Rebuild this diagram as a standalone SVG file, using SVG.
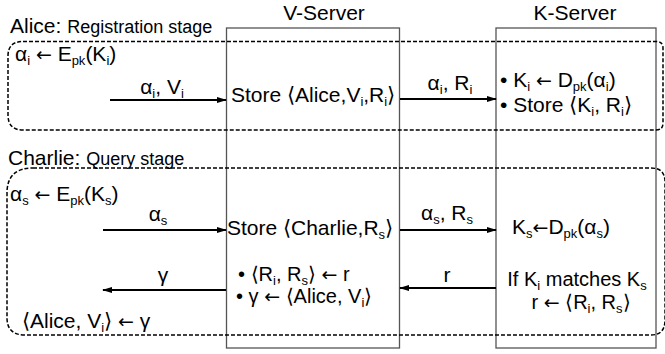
<svg xmlns="http://www.w3.org/2000/svg" width="665" height="354" viewBox="0 0 665 354">
<style>
text{font-family:"Liberation Sans",Arial,sans-serif;font-size:21px;fill:#000}
.sm{font-size:18px}
.s{font-size:13px}
.t{font-size:20px}
.ar{font-family:"DejaVu Sans",sans-serif;font-size:19px}
.box{fill:none;stroke:#555;stroke-width:1.3}
.dash{fill:none;stroke:#000;stroke-width:1.5;stroke-dasharray:4 2}
.arr{stroke:#000;stroke-width:2;fill:none;marker-end:url(#ah)}
</style>
<defs>
<marker id="ah" markerWidth="10" markerHeight="8" refX="9" refY="4" orient="auto" markerUnits="userSpaceOnUse">
<path d="M0,1 L10,4 L0,7 Z" fill="#000"/>
</marker>
</defs>
<rect width="665" height="354" fill="#fff"/>
<g id="vserver">
<rect class="box" x="226.5" y="28" width="173" height="320"/>
<text x="324" y="20" text-anchor="middle">V-Server</text>
</g>
<g id="kserver">
<rect class="box" x="496" y="28" width="160" height="320"/>
<text x="575" y="20" text-anchor="middle">K-Server</text>
</g>
<g id="registration">
<path class="dash" d="M23,41.5 H656 Q663,41.5 663,48 V123 Q663,130 656,130 H23 Q8,130 8,115 V56 Q8,41.5 23,41.5 Z"/>
<text x="10" y="33">Alice: <tspan class="sm">Registration stage</tspan></text>
<text x="15" y="61">α<tspan dy="4" class="s">i</tspan><tspan dy="-4"> </tspan><tspan class="ar">←</tspan> E<tspan dy="4" class="s">pk</tspan><tspan dy="-4">(K</tspan><tspan dy="4" class="s">i</tspan><tspan dy="-4">)</tspan></text>
<text x="231" y="102">Store ⟨Alice,V<tspan dy="4" class="s">i</tspan><tspan dy="-4">,R</tspan><tspan dy="4" class="s">i</tspan><tspan dy="-4">⟩</tspan></text>
<text x="500" y="87">• K<tspan dy="4" class="s">i</tspan><tspan dy="-4"> </tspan><tspan class="ar">←</tspan> D<tspan dy="4" class="s">pk</tspan><tspan dy="-4">(α</tspan><tspan dy="4" class="s">i</tspan><tspan dy="-4">)</tspan></text>
<text x="500" y="112">• Store ⟨K<tspan dy="4" class="s">i</tspan><tspan dy="-4">, R</tspan><tspan dy="4" class="s">i</tspan><tspan dy="-4">⟩</tspan></text>
</g>
<g id="query">
<path class="dash" d="M33,168 H651 Q665,168 665,182 V320 Q665,335 651,335 H25 Q7,335 7,318 V193 Q7,168 33,168 Z"/>
<text x="8" y="165">Charlie: <tspan class="sm">Query stage</tspan></text>
<text x="10" y="201">α<tspan dy="4" class="s">s</tspan><tspan dy="-4"> </tspan><tspan class="ar">←</tspan> E<tspan dy="4" class="s">pk</tspan><tspan dy="-4">(K</tspan><tspan dy="4" class="s">s</tspan><tspan dy="-4">)</tspan></text>
<text x="227" y="235">Store ⟨Charlie,R<tspan dy="4" class="s">s</tspan><tspan dy="-4">⟩</tspan></text>
<text x="512" y="234">K<tspan dy="4" class="s">s</tspan><tspan dy="-4" class="ar">←</tspan>D<tspan dy="4" class="s">pk</tspan><tspan dy="-4">(α</tspan><tspan dy="4" class="s">s</tspan><tspan dy="-4">)</tspan></text>
<text class="t" x="238" y="281">• ⟨R<tspan dy="4" class="s">i</tspan><tspan dy="-4">, R</tspan><tspan dy="4" class="s">s</tspan><tspan dy="-4">⟩ </tspan><tspan class="ar">←</tspan> r</text>
<text class="t" x="236" y="303">• γ <tspan class="ar">←</tspan> ⟨Alice, V<tspan dy="4" class="s">i</tspan><tspan dy="-4">⟩</tspan></text>
<text class="t" x="577" y="286" text-anchor="middle">If K<tspan dy="4" class="s">i</tspan><tspan dy="-4"> matches K</tspan><tspan dy="4" class="s">s</tspan></text>
<text class="t" x="581" y="309" text-anchor="middle">r <tspan class="ar">←</tspan> ⟨R<tspan dy="4" class="s">i</tspan><tspan dy="-4">, R</tspan><tspan dy="4" class="s">s</tspan><tspan dy="-4">⟩</tspan></text>
<text x="22" y="328">⟨Alice, V<tspan dy="4" class="s">i</tspan><tspan dy="-4">⟩ </tspan><tspan class="ar">←</tspan> γ</text>
</g>
<g id="connectors">
<line class="arr" x1="110" y1="100" x2="226" y2="100"/>
<text x="162" y="94" text-anchor="middle">α<tspan dy="4" class="s">i</tspan><tspan dy="-4">, V</tspan><tspan dy="4" class="s">i</tspan></text>
<line class="arr" x1="400" y1="99" x2="496" y2="99"/>
<text x="450" y="90" text-anchor="middle">α<tspan dy="4" class="s">i</tspan><tspan dy="-4">, R</tspan><tspan dy="4" class="s">i</tspan></text>
<line class="arr" x1="103" y1="230" x2="226" y2="230"/>
<text x="158" y="221" text-anchor="middle">α<tspan dy="4" class="s">s</tspan></text>
<line class="arr" x1="400" y1="230" x2="496" y2="230"/>
<text x="447" y="220" text-anchor="middle">α<tspan dy="4" class="s">s</tspan><tspan dy="-4">, R</tspan><tspan dy="4" class="s">s</tspan></text>
<line class="arr" x1="226" y1="290" x2="103" y2="290"/>
<text x="163" y="282" text-anchor="middle">γ</text>
<line class="arr" x1="496" y1="288" x2="400" y2="288"/>
<text x="447" y="282" text-anchor="middle">r</text>
</g>
</svg>
